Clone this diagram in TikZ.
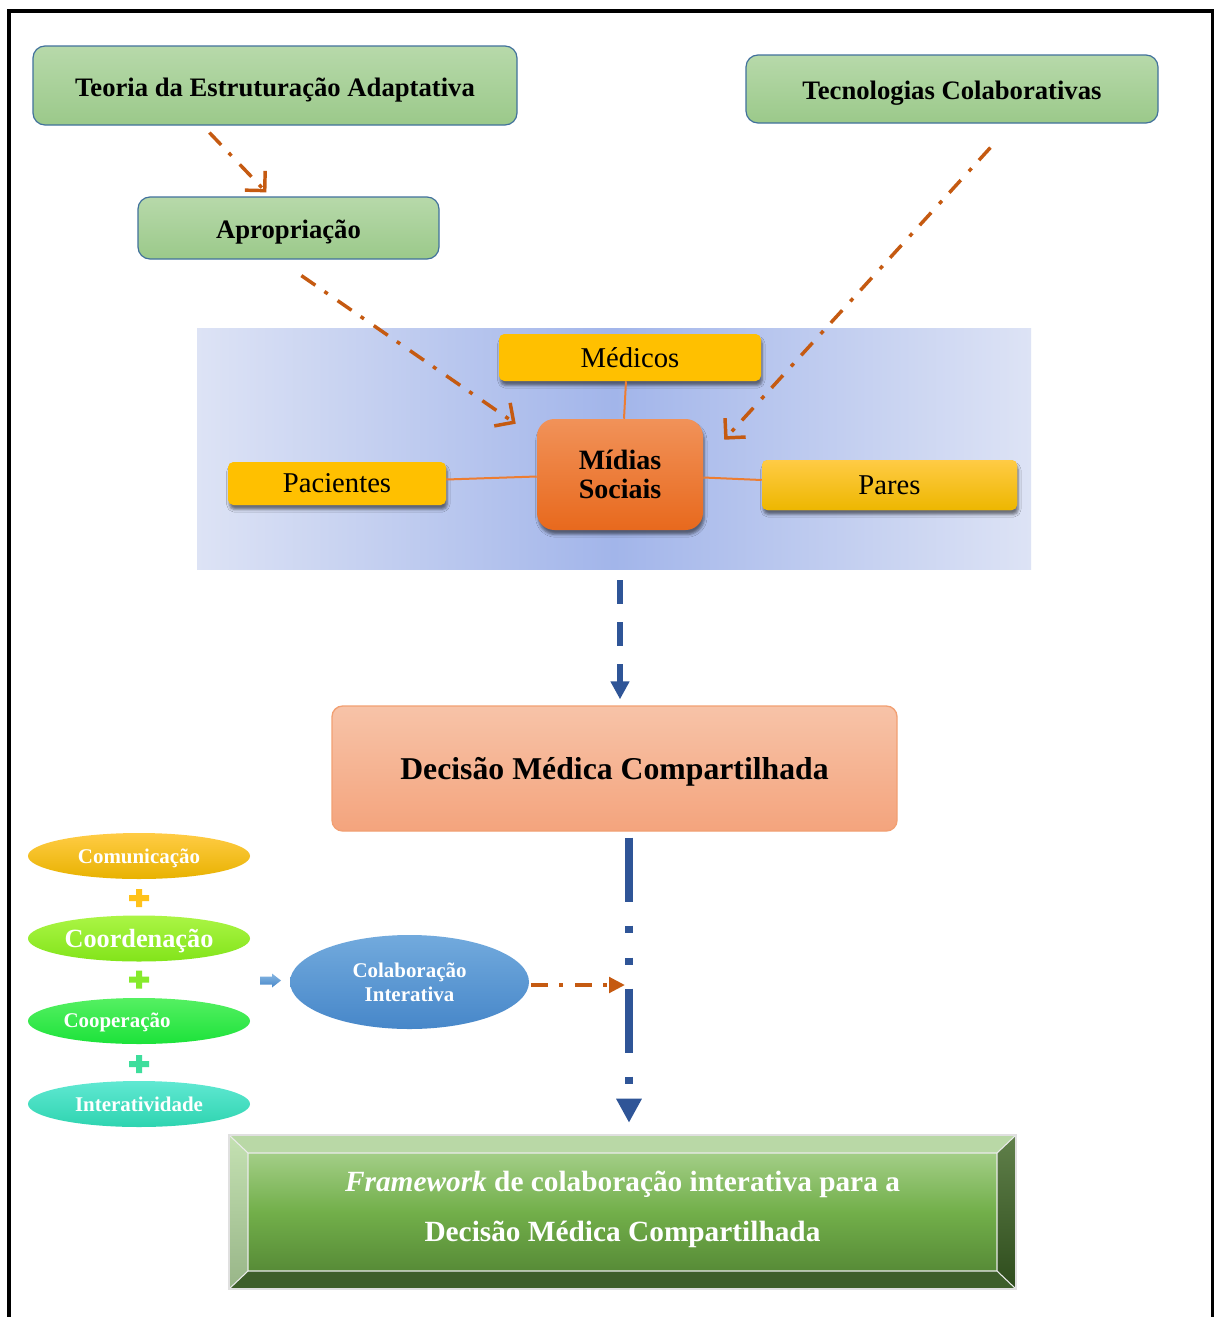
\documentclass[tikz,border=0pt]{standalone}
\usepackage{fontspec}
\setmainfont{Liberation Serif}
\usetikzlibrary{arrows.meta,calc,shapes.geometric,shadows.blur}

% palette
\definecolor{greenTop}{HTML}{B7D9AA}
\definecolor{greenBot}{HTML}{9BC98A}
\definecolor{boxEdge}{HTML}{41719C}
\definecolor{gold}{HTML}{FFC000}
\definecolor{goldTop}{HTML}{FFCB45}
\definecolor{goldBot}{HTML}{EDB700}
\definecolor{midTop}{HTML}{F19259}
\definecolor{midBot}{HTML}{E8691D}
\definecolor{lineOrange}{HTML}{ED7D31}
\definecolor{arrowOrange}{HTML}{C55A11}
\definecolor{arrowBlue}{HTML}{2F5597}
\definecolor{panelEdge}{HTML}{DDE3F5}
\definecolor{panelMid}{HTML}{A2B5EA}
\definecolor{salmonTop}{HTML}{F7C3A8}
\definecolor{salmonBot}{HTML}{F4A47D}
\definecolor{salmonEdge}{HTML}{F2A073}
\definecolor{comTop}{HTML}{FFCC45}
\definecolor{comBot}{HTML}{E8B200}
\definecolor{cooTop}{HTML}{ABF545}
\definecolor{cooBot}{HTML}{82E41A}
\definecolor{copTop}{HTML}{55F062}
\definecolor{copBot}{HTML}{1CE23A}
\definecolor{intTop}{HTML}{60E8D2}
\definecolor{intBot}{HTML}{2ED4B0}
\definecolor{colTop}{HTML}{72AADD}
\definecolor{colBot}{HTML}{4787C9}
\definecolor{plusA}{HTML}{FFC21A}
\definecolor{plusB}{HTML}{86EA2C}
\definecolor{plusC}{HTML}{3EDE9C}
\definecolor{fwTop}{HTML}{A3CE87}
\definecolor{fwMid}{HTML}{72AF4A}
\definecolor{fwBot}{HTML}{578B37}
\definecolor{bevTop}{HTML}{B9D8A6}
\definecolor{bevLeftTop}{HTML}{C4E1B2}
\definecolor{bevLeftBot}{HTML}{98B588}
\definecolor{bevRightTop}{HTML}{60804A}
\definecolor{bevRightBot}{HTML}{2E4C1C}
\definecolor{bevBot}{HTML}{3E5F2A}

\begin{document}
\begin{tikzpicture}[x=0.75pt,y=-0.75pt,
  gbox/.style={draw=boxEdge, line width=0.9pt, rounded corners=9pt,
    top color=greenTop, bottom color=greenBot, inner sep=0pt,
    text height=20pt, text depth=4pt,
    font=\fontsize{20}{24}\selectfont\bfseries},
  ybox/.style={rounded corners=4pt, fill=gold, inner sep=0pt,
    font=\fontsize{21.5}{24}\selectfont,
    blur shadow={shadow xshift=1pt, shadow yshift=-3.4pt,
      shadow blur radius=2pt, shadow opacity=50}},
  mbox/.style={rounded corners=13pt, top color=midTop, bottom color=midBot,
    inner sep=0pt, align=center,
    font=\fontsize{21}{21.75}\selectfont\bfseries,
    blur shadow={shadow xshift=1pt, shadow yshift=-3.4pt,
      shadow blur radius=2pt, shadow opacity=50}},
  dbox/.style={draw=salmonEdge, line width=1pt, rounded corners=8pt,
    top color=salmonTop, bottom color=salmonBot, inner sep=0pt,
    text height=23.8pt, text depth=6.6pt,
    font=\fontsize{23.8}{28}\selectfont\bfseries},
  oval/.style={ellipse, inner sep=0pt, text=white, align=center,
    minimum width=222*0.75pt, minimum height=46*0.75pt,
    font=\fontsize{15.7}{18}\selectfont\bfseries},
  ovaltext/.style={text=white, inner sep=0pt,
    font=\fontsize{15.7}{18}\selectfont\bfseries},
  link/.style={draw=lineOrange, line width=1.5pt},
  oarrow/.style={draw=arrowOrange, line width=2.6pt,
    dash pattern=on 12.75pt off 8.25pt on 3pt off 9pt,
    -{Straight Barb[length=10.5pt,width=21pt]}},
  oarrowh/.style={draw=arrowOrange, line width=3pt,
    dash pattern=on 12.75pt off 8.25pt on 3pt off 9pt,
    -{Triangle[length=12pt,width=11.5pt]}},
  barrowa/.style={draw=arrowBlue, line width=4.5pt,
    dash pattern=on 18pt off 13.5pt,
    -{Triangle[length=13.5pt,width=13.5pt]}},
  barrowb/.style={draw=arrowBlue, line width=5.6pt,
    dash pattern=on 48pt off 18pt on 5.25pt off 18.75pt on 5.25pt off 18pt,
    -{Triangle[length=18pt,width=18pt]}},
  plussign/.pic={\fill[#1] (-10,-3) -- (-3,-3) -- (-3,-9) -- (3,-9) -- (3,-3)
    -- (10,-3) -- (10,3) -- (3,3) -- (3,9) -- (-3,9) -- (-3,3) -- (-10,3) -- cycle;}
]
\useasboundingbox (0,0) rectangle (1215,1317);
\fill[white] (0,0) rectangle (1215,1317);

% outer frame
\draw[line width=3pt] (7,10.5) -- (1213.5,10.5);
\draw[line width=3pt] (9,9) -- (9,1330);
\draw[line width=1.6pt] (1212.5,9) -- (1212.5,1330);

% theory boxes
\node[gbox, minimum width=484*0.75pt, minimum height=79*0.75pt] (teoria) at (275,85.5) {Teoria da Estruturação Adaptativa};
\node[gbox, minimum width=412*0.75pt, minimum height=68*0.75pt] (tecno) at (952,89) {Tecnologias Colaborativas};
\node[gbox, minimum width=301*0.75pt, minimum height=62*0.75pt] (aprop) at (288.5,228) {Apropriação};

% social media panel
\node[minimum width=834*0.75pt, minimum height=241*0.75pt, inner sep=0pt,
  left color=panelEdge, right color=panelEdge, middle color=panelMid] (panel) at (614,448.5) {};

\node[ybox, minimum width=262*0.75pt, minimum height=47*0.75pt] (medicos) at (630,357.5) {Médicos};
\node[ybox, minimum width=218*0.75pt, minimum height=43*0.75pt] (pacientes) at (337,483.5) {Pacientes};
\node[ybox, top color=goldTop, bottom color=goldBot, minimum width=255*0.75pt, minimum height=50*0.75pt] (pares) at (889.5,485) {Pares};
\node[mbox, minimum width=166*0.75pt, minimum height=111*0.75pt] (midias) at (620,474.5) {Mídias\\Sociais};

\draw[link] ($(medicos.south)+(-4,0)$) -- ($(midias.north)+(4,0)$);
\draw[link] ($(pacientes.east)+(0,-4)$) -- ($(midias.west)+(0,2)$);
\draw[link] ($(midias.east)+(0,3)$) -- ($(pares.west)+(0,-5)$);

% shared decision box
\node[dbox, minimum width=565*0.75pt, minimum height=125*0.75pt] (decisao) at (614.5,768.5) {Decisão Médica Compartilhada};

% collaboration components
\node[oval, text height=15.7pt, text depth=3.8pt, top color=comTop, bottom color=comBot] (comunic) at (139,856) {Comunicação};
\node[oval, text height=17pt, text depth=4pt, top color=cooTop, bottom color=cooBot,
  font=\fontsize{19.7}{22}\selectfont\bfseries] (coord) at (139,938.5) {Coordenação};
\node[oval, top color=copTop, bottom color=copBot] (coop) at (139,1021) {};
\node[ovaltext, text height=14pt, text depth=3.6pt] (cooptext) at ($(coop.center)+(-22,0)$) {Cooperação};
\node[oval, text height=14pt, text depth=3.3pt, top color=intTop, bottom color=intBot] (inter) at (139,1104) {Interatividade};

\pic at (139,898) {plussign=plusA};
\pic at (139,979.5) {plussign=plusB};
\pic at (139,1064) {plussign=plusC};

\shade[top color=colTop!85!white, bottom color=colBot] (260,976.5) -- (272,976.5) -- (272,973.5)
  -- (281,980.5) -- (272,987.5) -- (272,984.5) -- (260,984.5) -- cycle;

\node[oval, top color=colTop, bottom color=colBot, minimum width=239*0.75pt, minimum height=94*0.75pt,
  font=\fontsize{15.7}{18}\selectfont\bfseries] (colab) at (409.5,982) {Colaboração\\Interativa};

% bevelled framework panel
\shade[top color=fwTop, bottom color=fwBot, middle color=fwMid] (248,1153) rectangle (997,1271);
\fill[bevTop] (229,1135) -- (1016,1135) -- (997,1153) -- (248,1153) -- cycle;
\shade[top color=bevLeftTop, bottom color=bevLeftBot]
  (229,1135) -- (248,1153) -- (248,1271) -- (229,1289) -- cycle;
\shade[top color=bevRightTop, bottom color=bevRightBot]
  (1016,1135) -- (1016,1289) -- (997,1271) -- (997,1153) -- cycle;
\fill[bevBot] (229,1289) -- (248,1271) -- (997,1271) -- (1016,1289) -- cycle;
\draw[white!92!black, line width=0.8pt] (248,1153) rectangle (997,1271)
  (229,1135) -- (248,1153) (1016,1135) -- (997,1153) (229,1289) -- (248,1271) (1016,1289) -- (997,1271);
\draw[black!12, line width=1pt] (229,1135) rectangle (1016,1289);
\node[minimum width=787*0.75pt, minimum height=154*0.75pt, inner sep=0pt] (frame) at (622.5,1212) {};
\node[text=white, align=center, inner sep=0pt, font=\fontsize{22}{37.5}\selectfont\bfseries] (frametext) at (622.5,1209.5)
  {\textit{Framework} de colaboração interativa para a\\Decisão Médica Compartilhada};

% connectors
\draw[oarrow] ($(teoria.south west)+(177,7)$) -- ($(aprop.north west)+(129,-4)$);
\draw[oarrow] ($(aprop.south west)+(164,16)$) -- ($(midias.north west)+(-21,5)$);
\draw[oarrow] ($(tecno.south west)+(245,24)$) -- ($(midias.north east)+(21,21)$);

\draw[barrowa] ($(panel.south)+(6,11)$) -- ($(decisao.north)+(5.5,-6)$);
\draw[barrowb] ($(decisao.south)+(14.5,6)$) -- ($(frame.north)+(6.5,-12)$);

\coordinate (meet) at (625,985);
\draw[oarrowh] ($(colab.east)+(2,3)$) -- (meet);
\end{tikzpicture}
\end{document}
